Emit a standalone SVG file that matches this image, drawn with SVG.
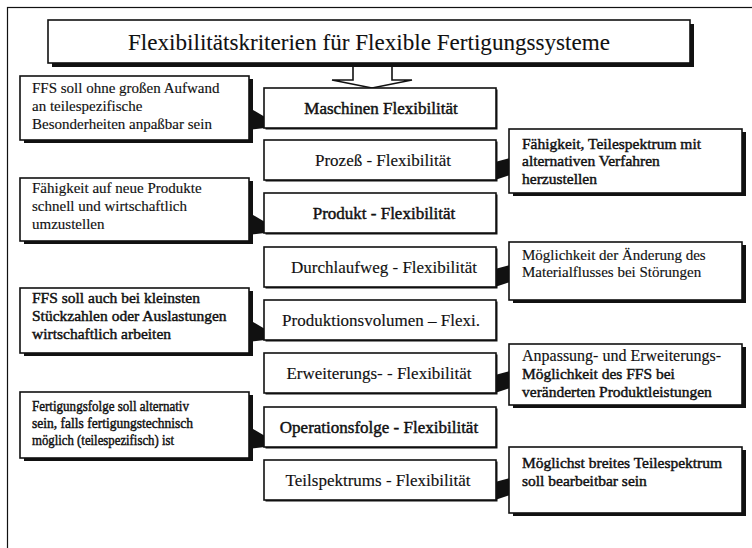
<svg xmlns="http://www.w3.org/2000/svg" width="752" height="548" viewBox="0 0 752 548">
  <style>
    .frame { fill: none; stroke: #111; stroke-width: 1.2; }
    .shadow { fill: #111; }
    .box { fill: #fff; stroke: #111; stroke-width: 1.6; }
    .wedge { fill: #111; stroke: none; }
    .arrow { fill: #fff; stroke: #111; stroke-width: 1.6; stroke-linejoin: miter; }
    text { font-family: "Liberation Serif", "Times New Roman", serif; fill: #111; stroke: #111; stroke-width: 0.15; }
    .title { font-size: 24px; text-anchor: middle; stroke-width: 0.1; }
    .label { font-size: 17px; text-anchor: middle; }
    .note { font-size: 15px; }
    .sb { stroke-width: 0.45; }
  </style>

  <rect width="752" height="548" fill="#fff"/>
  <!-- page frame -->
  <rect class="frame" x="7.5" y="7.5" width="800" height="600"/>

  <!-- connectors: downward block arrow and callout pointers -->
  <g id="connectors">
    <path class="arrow" d="M353,62 V80 H332 L372,88 L412,80 H392 V62"/>
    <!-- left callouts to criteria -->
    <polygon class="wedge" points="248,107 265,117 265,128 248,130"/>
    <polygon class="wedge" points="248,212 265,222 265,233 248,235"/>
    <polygon class="wedge" points="248,319 265,329 265,340 248,342"/>
    <polygon class="wedge" points="248,426 265,436 265,447 248,449"/>
    <!-- right callouts to criteria -->
    <polygon class="wedge" points="495,162 510,158 510,175 495,180"/>
    <polygon class="wedge" points="495,269 510,265 510,282 495,287"/>
    <polygon class="wedge" points="495,375 510,371 510,388 495,393"/>
    <polygon class="wedge" points="495,482 510,478 510,495 495,500"/>
  </g>

  <!-- heading -->
  <g id="title">
    <rect class="shadow" x="52" y="24" width="642" height="43"/>
    <rect class="box" x="48" y="20" width="642" height="43"/>
    <text class="title" x="369" y="50" textLength="482" lengthAdjust="spacingAndGlyphs">Flexibilitätskriterien für Flexible Fertigungssysteme</text>
  </g>

  <!-- criteria column -->
  <g id="m-maschinen">
    <rect class="shadow" x="265.5" y="89.5" width="232" height="40"/>
    <rect class="box" x="264" y="88" width="232" height="40"/>
    <text class="label sb" x="381" y="114">Maschinen Flexibilität</text>
  </g>
  <g id="m-prozess">
    <rect class="shadow" x="265.5" y="141.5" width="232" height="40"/>
    <rect class="box" x="264" y="140" width="232" height="40"/>
    <text class="label" x="383" y="166">Prozeß - Flexibilität</text>
  </g>
  <g id="m-produkt">
    <rect class="shadow" x="265.5" y="194.5" width="232" height="40"/>
    <rect class="box" x="264" y="193" width="232" height="40"/>
    <text class="label sb" x="384" y="219">Produkt - Flexibilität</text>
  </g>
  <g id="m-durchlaufweg">
    <rect class="shadow" x="265.5" y="248.5" width="232" height="40"/>
    <rect class="box" x="264" y="247" width="232" height="40"/>
    <text class="label" x="384" y="273">Durchlaufweg - Flexibilität</text>
  </g>
  <g id="m-produktionsvolumen">
    <rect class="shadow" x="265.5" y="301.5" width="232" height="40"/>
    <rect class="box" x="264" y="300" width="232" height="40"/>
    <text class="label" x="381" y="326">Produktionsvolumen – Flexi.</text>
  </g>
  <g id="m-erweiterung">
    <rect class="shadow" x="265.5" y="354.5" width="232" height="40"/>
    <rect class="box" x="264" y="353" width="232" height="40"/>
    <text class="label" x="379" y="379">Erweiterungs- - Flexibilität</text>
  </g>
  <g id="m-operationsfolge">
    <rect class="shadow" x="265.5" y="408.5" width="232" height="40"/>
    <rect class="box" x="264" y="407" width="232" height="40"/>
    <text class="label sb" x="379" y="433">Operationsfolge - Flexibilität</text>
  </g>
  <g id="m-teilspektrum">
    <rect class="shadow" x="265.5" y="461.5" width="232" height="40"/>
    <rect class="box" x="264" y="460" width="232" height="40"/>
    <text class="label" x="378" y="486">Teilspektrums - Flexibilität</text>
  </g>

  <!-- left callouts -->
  <g id="l-maschinen">
    <rect class="shadow" x="24" y="79" width="229" height="64"/>
    <rect class="box" x="20" y="76" width="229" height="64"/>
    <text class="note" x="32"><tspan x="32" y="93">FFS soll ohne großen Aufwand</tspan><tspan x="32" y="111">an teilespezifische</tspan><tspan x="32" y="129">Besonderheiten anpaßbar sein</tspan></text>
  </g>
  <g id="l-produkt">
    <rect class="shadow" x="24" y="181" width="229" height="63"/>
    <rect class="box" x="20" y="178" width="229" height="63"/>
    <text class="note" x="32"><tspan x="32" y="193">Fähigkeit auf neue Produkte</tspan><tspan x="32" y="211">schnell und wirtschaftlich</tspan><tspan x="32" y="229">umzustellen</tspan></text>
  </g>
  <g id="l-produktionsvolumen">
    <rect class="shadow" x="24" y="291" width="229" height="65"/>
    <rect class="box" x="20" y="288" width="229" height="65"/>
    <text class="note sb" x="32" style="font-size:15.5px"><tspan x="32" y="303">FFS soll auch bei kleinsten</tspan><tspan x="32" y="321">Stückzahlen oder Auslastungen</tspan><tspan x="32" y="339">wirtschaftlich arbeiten</tspan></text>
  </g>
  <g id="l-operationsfolge">
    <rect class="shadow" x="24" y="395" width="229" height="66"/>
    <rect class="box" x="20" y="392" width="229" height="66"/>
    <text class="note sb" x="32" y="411" style="font-size:14.5px" textLength="157" lengthAdjust="spacingAndGlyphs">Fertigungsfolge soll alternativ</text>
    <text class="note sb" x="32" y="428" style="font-size:14.5px" textLength="161" lengthAdjust="spacingAndGlyphs">sein, falls fertigungstechnisch</text>
    <text class="note sb" x="32" y="445" style="font-size:14.5px" textLength="142" lengthAdjust="spacingAndGlyphs">möglich (teilespezifisch)  ist</text>
  </g>

  <!-- right callouts -->
  <g id="r-prozess">
    <rect class="shadow" x="513" y="132" width="233" height="64"/>
    <rect class="box" x="509" y="129" width="233" height="64"/>
    <text class="note sb" x="522" style="font-size:15.5px"><tspan x="522" y="149">Fähigkeit, Teilespektrum mit</tspan><tspan x="522" y="166">alternativen Verfahren</tspan><tspan x="522" y="184">herzustellen</tspan></text>
  </g>
  <g id="r-durchlaufweg">
    <rect class="shadow" x="513" y="245" width="233" height="58"/>
    <rect class="box" x="509" y="242" width="233" height="58"/>
    <text class="note" x="522"><tspan x="522" y="260">Möglichkeit der Änderung des</tspan><tspan x="522" y="277">Materialflusses bei Störungen</tspan></text>
  </g>
  <g id="r-erweiterung">
    <rect class="shadow" x="513" y="347" width="233" height="61"/>
    <rect class="box" x="509" y="344" width="233" height="61"/>
    <text class="note" x="522" style="font-size:16px"><tspan x="522" y="361">Anpassung- und Erweiterungs-</tspan><tspan class="sb" x="522" y="379" style="font-size:15.5px">Möglichkeit des FFS bei</tspan><tspan class="sb" x="522" y="397" style="font-size:15.5px">veränderten Produktleistungen</tspan></text>
  </g>
  <g id="r-teilspektrum">
    <rect class="shadow" x="513" y="450" width="233" height="66"/>
    <rect class="box" x="509" y="447" width="233" height="66"/>
    <text class="note sb" x="522" style="font-size:15.5px"><tspan x="522" y="468">Möglichst breites Teilespektrum</tspan><tspan x="522" y="486">soll bearbeitbar sein</tspan></text>
  </g>
</svg>
